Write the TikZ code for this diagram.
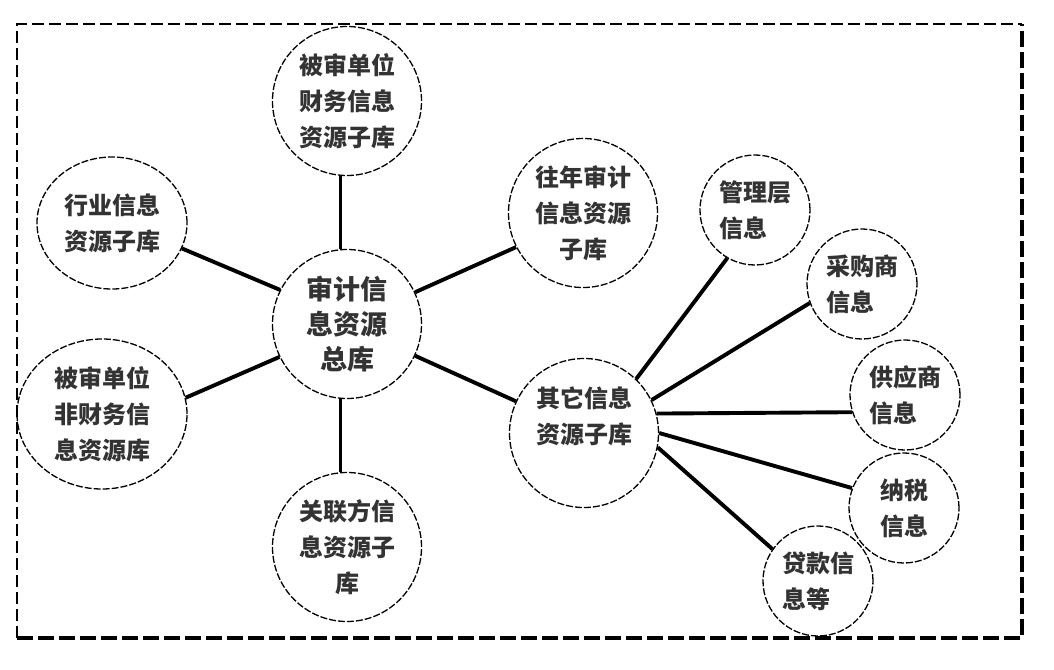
\documentclass[tikz,border=0pt]{standalone}
\usepackage{fontspec}
\newfontfamily\cjk{Noto Sans CJK SC}
\usetikzlibrary{shapes.geometric}
\tikzset{
  bubble/.style={circle, draw=black, line width=1.3pt, dash pattern=on 7pt off 2pt,
    inner sep=0pt, text=black!80, font=\cjk\bfseries\fontsize{24}{36}\selectfont},
  bigbubble/.style={bubble, minimum size=149pt, align=center},
  smallbubble/.style={bubble, minimum size=110pt, align=left},
  oval/.style={bubble, ellipse, align=center},
  link/.style={draw=black, line width=3.9pt},
  framethin/.style={draw=black, line width=1.6pt, dash pattern=on 12pt off 5pt},
  framethick/.style={draw=black, line width=3.6pt, dash pattern=on 16pt off 5pt}
}
\begin{document}
\begin{tikzpicture}[x=1pt,y=-1pt]
\useasboundingbox (0,0) rectangle (1054,669);
% frame
\draw[framethin] (17,638) -- (17,24) -- (1022,24);
\draw[framethick] (17,638) -- (1022,638) -- (1022,24);
% nodes
\node[bigbubble, font=\cjk\bfseries\fontsize{27}{35}\selectfont] (hub) at (347,324) {审计信\\息资源\\总库};
\node[bigbubble] (fin) at (347,101) {被审单位\\财务信息\\资源子库};
\node[oval, minimum width=150pt, minimum height=132pt] (ind) at (112,223) {行业信息\\资源子库};
\node[oval, minimum width=170pt, minimum height=150pt] (nonfin) at (102,414) {被审单位\\非财务信\\息资源库};
\node[bigbubble] (rel) at (347,547) {关联方信\\息资源子\\库};
\node[bigbubble] (past) at (583,213) {往年审计\\信息资源\\子库};
\node[bigbubble] (other) at (584,433) {其它信息\\资源子库\\\mbox{}};
\node[smallbubble] (mgmt) at (755,210) {管理层\\信息};
\node[smallbubble] (buy) at (862,284) {采购商\\信息};
\node[smallbubble] (sup) at (905,395) {供应商\\信息};
\node[smallbubble, align=center] (tax) at (904,508) {纳税\\信息};
\node[smallbubble] (loan) at (818,581) {贷款信\\息等};
% links from hub
\draw[link] (hub.95) -- (fin.265);
\draw[link] (hub.265) -- (rel.95);
\draw[link] (hub.153) -- (ind.-20);
\draw[link] (hub.206) -- (nonfin.11);
\draw[link] (hub.25) -- (past.207);
\draw[link] (hub.-25) -- (other.155);
% links from other
\draw[link] (other.46) -- (mgmt.240);
\draw[link] (other.26) -- (buy.200);
\draw[link] (other.15) -- (sup.198);
\draw[link] (other.0) -- (tax.159);
\draw[link] (other.-11) -- (loan.145);
\end{tikzpicture}
\end{document}
